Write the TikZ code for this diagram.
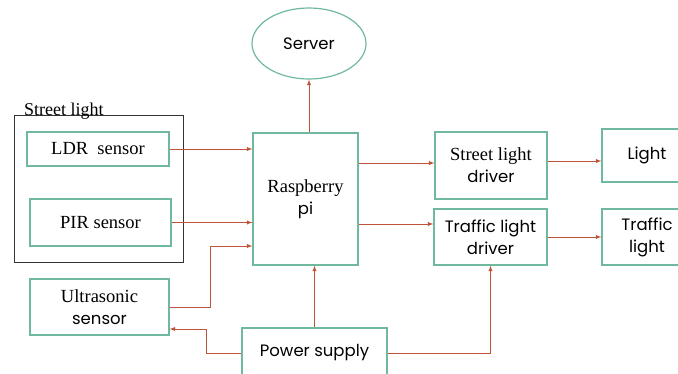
\documentclass[tikz,border=0pt]{standalone}
\usepackage{fontspec}
\setmainfont{Liberation Serif}
\newfontfamily\gothic{Poppins}
\usepackage{tikz}
\usetikzlibrary{arrows,shapes,calc}
\usetikzlibrary{positioning}
\definecolor{boxgreen}{RGB}{112,184,158}
\definecolor{arrred}{RGB}{192,84,58}
\newcommand{\gsans}{\gothic\fontsize{16.5}{22}\selectfont}
\tikzstyle{blk}=[draw=boxgreen,line width=1.2pt,rectangle,inner sep=0,align=center,
                 font=\fontsize{18.5}{22}\selectfont]
\tikzstyle{sans}=[font=\gsans]
\tikzstyle{arr}=[->,>=latex,draw=arrred,line width=0.9pt]

\begin{document}
\begin{tikzpicture}[x=1pt,y=-1pt]
\useasboundingbox (0,0) rectangle (678,373);
% street light group
\draw[black!80,line width=0.9pt] (14,115) rectangle (183,262);
\node[anchor=base west,font=\fontsize{18}{20}\selectfont,inner sep=0] (grp) at (24,115) {Street light};
\node[blk,minimum width=142pt,minimum height=34pt] (ldr) at (98,149) {LDR\ \ sensor};
\node[blk,minimum width=141pt,minimum height=47pt] (pir) at (100.5,222.5) {PIR sensor};
\node[blk,minimum width=139pt,minimum height=56pt] (ultra) at (99.5,307) {Ultrasonic\\{\gsans sensor}};
% centre
\node[blk,minimum width=105pt,minimum height=132pt] (rasp) at (305.5,199) {Raspberry\\{\gsans pi}};
\node[blk,sans,ellipse,minimum width=114pt,minimum height=71pt] (server) at (309,43.5) {Server};
\node[blk,sans,minimum width=145pt,minimum height=50pt] (power) at (314.5,353) {Power supply};
% drivers and lights
\node[blk,minimum width=112pt,minimum height=67pt] (sld) at (491,165.5) {Street light\\{\gsans driver}};
\node[blk,sans,minimum width=113pt,minimum height=56pt] (tld) at (490.5,237) {Traffic light\\driver};
\node[blk,sans,minimum width=90pt,minimum height=53pt] (light) at (647,155.5) {Light};
\node[blk,sans,minimum width=90pt,minimum height=56pt] (tlight) at (647,237) {Traffic\\light};
% connections
\coordinate (u1) at (210,246);
\coordinate (p1) at (206,329);
\draw[arr] (ldr.east) -- (ldr.east -| rasp.west);
\draw[arr] (pir.east) -- (pir.east -| rasp.west);
\draw[arr] (ultra.east) -| (u1) -- (u1 -| rasp.west);
\draw[arr] (power.west) -| (p1) -- (p1 -| ultra.east);
\draw[arr] (power.north) -- (power.north |- rasp.south);
\draw[arr] (power.east) -| (tld.south);
\draw[arr] (server.south |- rasp.north) -- (server.south);
\draw[arr] (rasp.east |- 0,163) -- (sld.west |- 0,163);
\draw[arr] (rasp.east |- 0,224) -- (tld.west |- 0,224);
\draw[arr] (sld.east |- 0,161) -- (light.west |- 0,161);
\draw[arr] (tld.east) -- (tld.east -| tlight.west);
\end{tikzpicture}
\end{document}
